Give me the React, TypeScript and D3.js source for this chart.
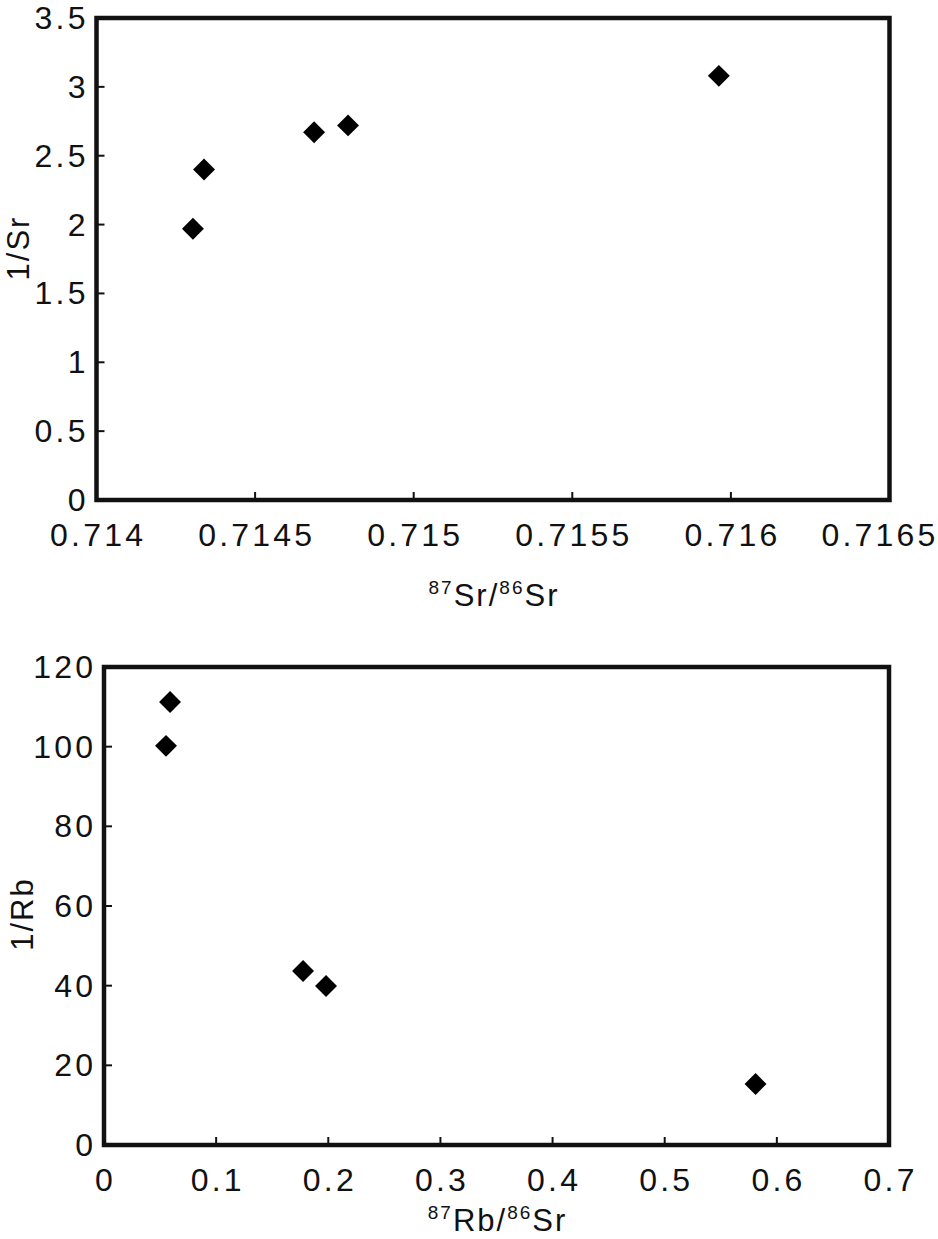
import React from "react";
import * as d3 from "d3";

const srRatio = [0.714304, 0.714339, 0.714686, 0.714793, 0.715962];
const invSr = [1.97, 2.4, 2.67, 2.72, 3.08];
const srTicksX = [0.714, 0.7145, 0.715, 0.7155, 0.716, 0.7165];
const srTicksY = [0, 0.5, 1, 1.5, 2, 2.5, 3, 3.5];

const rbSr = [0.0589, 0.0553, 0.1775, 0.198, 0.581];
const invRb = [111.2, 100.2, 43.7, 39.9, 15.3];
const rbTicksX = [0, 0.1, 0.2, 0.3, 0.4, 0.5, 0.6, 0.7];
const rbTicksY = [0, 20, 40, 60, 80, 100, 120];

const FONT = "'Liberation Sans', Arial, sans-serif";
const LS = 3.2;
const FS = 32;
const W = 938;

type PanelProps = {
  xs: number[];
  ys: number[];
  xDomain: [number, number];
  yDomain: [number, number];
  xTicks: number[];
  yTicks: number[];
  left: number;
  right: number;
  top: number;
  bottom: number;
  yLabel: string;
  xLabel: [string, string, string, string];
  xLabelY: number;
  yLabelCenter: number;
  yLabelX: number;
  fmtX: (v: number) => string;
};

function Panel(p: PanelProps) {
  const x = d3.scaleLinear().domain(p.xDomain).range([p.left, p.right]);
  const y = d3.scaleLinear().domain(p.yDomain).range([p.bottom, p.top]);
  const sym = d3.symbol().type(d3.symbolSquare).size(240)();
  const cx = (p.left + p.right) / 2;
  const labelW = (s: string) => s.length * (FS * 0.556 + LS) - (s.includes(".") ? FS * 0.278 : 0);
  return (
    <g fontFamily={FONT} letterSpacing={LS}>
      {p.xTicks.slice(1, -1).map((t, i) => (
        <line key={"xt" + i} x1={x(t)} x2={x(t)} y1={p.bottom} y2={p.bottom - 8} stroke="#111" strokeWidth={2} />
      ))}
      {p.yTicks.slice(1, -1).map((t, i) => (
        <line key={"yt" + i} x1={p.left} x2={p.left + 8} y1={y(t)} y2={y(t)} stroke="#111" strokeWidth={2} />
      ))}
      <rect x={p.left} y={p.top} width={p.right - p.left} height={p.bottom - p.top} fill="none" stroke="#111" strokeWidth={4.5} />
      {p.xTicks.map((t, i) => {
        const s = p.fmtX(t);
        const half = labelW(s) / 2;
        const px = Math.min(x(t), W - 1 - half);
        return (
          <text key={"xl" + i} x={px + LS / 2} y={p.bottom + 46} textAnchor="middle" fontSize={FS} fill="#111">
            {s}
          </text>
        );
      })}
      {p.yTicks.map((t, i) => (
        <text key={"yl" + i} x={p.left - 11 + LS} y={y(t) + 11} textAnchor="end" fontSize={FS} fill="#111">
          {String(t)}
        </text>
      ))}
      {p.xs.map((v, i) => (
        <path key={"pt" + i} d={sym as string} transform={`translate(${x(v)},${y(p.ys[i])}) rotate(45)`} fill="#000" />
      ))}
      <text x={cx + 1} y={p.xLabelY} textAnchor="middle" fontSize={31} fill="#111" letterSpacing={2}>
        <tspan fontSize={19} dy={-12}>{p.xLabel[0]}</tspan>
        <tspan dy={12}>{p.xLabel[1]}</tspan>
        <tspan fontSize={19} dy={-12}>{p.xLabel[2]}</tspan>
        <tspan dy={12}>{p.xLabel[3]}</tspan>
      </text>
      <text transform={`translate(${p.yLabelX},${p.yLabelCenter}) rotate(-90)`} textAnchor="middle" fontSize={31} fill="#111" letterSpacing={2}>
        {p.yLabel}
      </text>
    </g>
  );
}

export default function App() {
  return (
    <svg width={938} height={1239} style={{ position: "absolute", left: 0, top: 0, display: "block" }}>
      <rect x={0} y={0} width={938} height={1239} fill="#fff" />
      <Panel
        xs={srRatio}
        ys={invSr}
        xDomain={[0.714, 0.7165]}
        yDomain={[0, 3.5]}
        xTicks={srTicksX}
        yTicks={srTicksY}
        left={96.5}
        right={889.5}
        top={18}
        bottom={500}
        yLabel="1/Sr"
        xLabel={["87", "Sr/", "86", "Sr"]}
        xLabelY={606}
        yLabelCenter={248}
        yLabelX={29}
        fmtX={(v) => String(+v.toFixed(4))}
      />
      <Panel
        xs={rbSr}
        ys={invRb}
        xDomain={[0, 0.7]}
        yDomain={[0, 120]}
        xTicks={rbTicksX}
        yTicks={rbTicksY}
        left={104}
        right={889}
        top={667}
        bottom={1145}
        yLabel="1/Rb"
        xLabel={["87", "Rb/", "86", "Sr"]}
        xLabelY={1231}
        yLabelCenter={914}
        yLabelX={33}
        fmtX={(v) => String(+v.toFixed(1))}
      />
    </svg>
  );
}
